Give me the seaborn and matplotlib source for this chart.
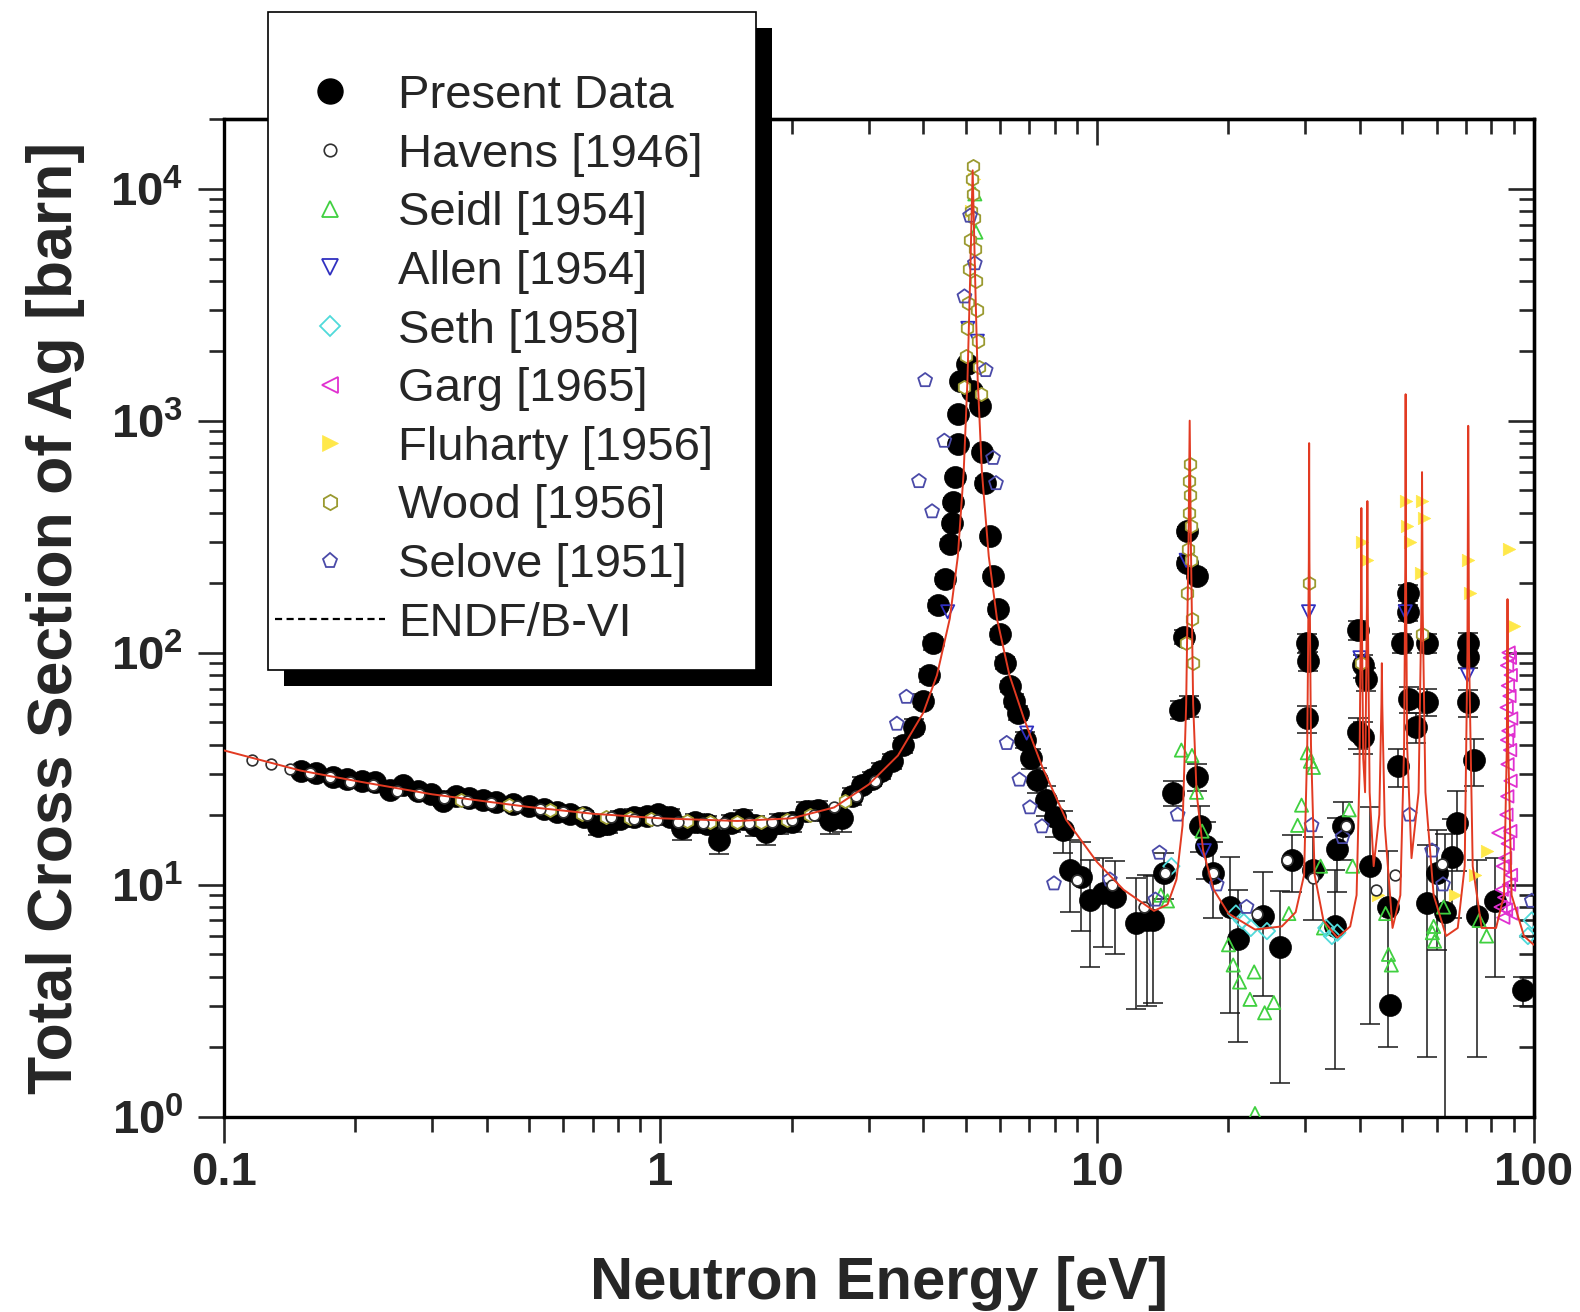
import numpy as np
import matplotlib
matplotlib.use("Agg")
import matplotlib.pyplot as plt
import seaborn as sns
from matplotlib.lines import Line2D
from matplotlib.patches import Rectangle
from matplotlib.ticker import LogLocator, NullFormatter

sns.set_style("ticks")
plt.rcParams['font.family'] = ['Liberation Sans', 'DejaVu Sans']
plt.rcParams['mathtext.fontset'] = 'custom'
plt.rcParams['mathtext.rm'] = 'Liberation Sans:bold'
plt.rcParams['mathtext.it'] = 'Liberation Sans:bold'
plt.rcParams['mathtext.bf'] = 'Liberation Sans:bold'
plt.rcParams['mathtext.default'] = 'rm'

# ---------------- data ----------------
# ENDF/B-VI evaluated curve
endf_E = [0.1, 0.15, 0.2, 0.3, 0.4, 0.5, 0.7, 1.0, 1.5, 2.0, 2.5, 3.0, 3.5, 4.0, 4.3, 4.6,
          4.8, 4.95, 5.05, 5.12, 5.19, 5.26, 5.33, 5.45, 5.65, 5.9, 6.3, 6.8, 7.5, 8.5,
          10.0, 11.5, 13.5, 14.5, 15.2, 15.7, 16.0, 16.2, 16.3, 16.4, 16.6, 16.9, 17.5,
          18.5, 20.0, 23.0, 26.5, 28.5, 29.8, 30.3, 30.55, 30.6, 30.65, 30.9, 31.5, 33.0,
          35.5, 38.0, 39.3, 39.9, 40.2, 40.3, 40.4, 40.7, 41.1, 41.5, 41.6, 41.7, 42.1,
          43.0, 44.3, 44.8, 44.9, 45.0, 45.6, 47.5, 49.5, 50.5, 50.85, 50.9, 50.95, 51.3,
          52.5, 54.5, 55.3, 55.5, 55.7, 56.5, 59.0, 63.0, 67.0, 69.5, 70.5, 70.8, 71.1,
          72.5, 76.0, 82.0, 85.5, 86.8, 87.1, 87.4, 89.0, 95.0, 100.0]
endf_sig = [37.9, 31.0, 28.0, 24.5, 22.8, 21.6, 20.2, 19.3, 18.8, 19.3, 21.5, 27.0, 36.0, 55.0,
            80.0, 140.0, 260.0, 600.0, 1500.0, 4000.0, 12000.0, 4000.0, 1500.0, 600.0, 260.0,
            140.0, 80.0, 52.0, 32.0, 19.0, 12.5, 9.5, 7.7, 8.2, 10.5, 18.0, 60.0, 300.0,
            1000.0, 300.0, 60.0, 25.0, 14.0, 9.5, 7.5, 6.4, 6.6, 7.6, 11.0, 40.0, 250.0,
            800.0, 250.0, 40.0, 11.0, 7.0, 5.9, 6.6, 9.0, 30.0, 150.0, 420.0, 150.0, 35.0,
            25.0, 160.0, 450.0, 150.0, 25.0, 12.0, 20.0, 60.0, 90.0, 60.0, 18.0, 6.5, 9.0,
            40.0, 300.0, 1300.0, 300.0, 40.0, 13.0, 25.0, 150.0, 600.0, 150.0, 25.0, 9.0,
            6.0, 6.5, 12.0, 100.0, 950.0, 100.0, 12.0, 6.5, 6.5, 9.0, 40.0, 170.0, 40.0,
            9.0, 6.0, 5.5]

# Present Data (energy, cross section, error)
pd_E = [0.150, 0.163, 0.178, 0.192, 0.207, 0.222, 0.240, 0.258, 0.278, 0.298, 0.318, 0.340,
        0.365, 0.392, 0.420, 0.460, 0.500, 0.540, 0.580, 0.620, 0.670, 0.720, 0.760, 0.810,
        0.870, 0.930, 0.990, 1.05, 1.12, 1.20, 1.28, 1.36, 1.45, 1.55, 1.65, 1.75, 1.87,
        2.00, 2.15, 2.30, 2.45, 2.60, 2.75, 2.90, 3.05, 3.20, 3.40, 3.60, 3.80, 4.00, 4.12,
        4.22, 4.33, 4.48, 4.60, 4.65, 4.69, 4.73, 4.81, 4.81, 4.85, 5.03, 5.16, 5.40, 5.44,
        5.54, 5.69, 5.79, 5.94, 6.00, 6.15, 6.32, 6.45, 6.60, 6.84, 7.05, 7.27, 7.66, 8.00,
        8.37, 8.67, 9.20, 9.63, 10.3, 11.0, 12.3, 13.0, 13.4, 14.2, 14.9, 15.5, 15.8, 16.1,
        16.1, 16.9, 16.2, 16.9, 17.2, 17.8, 18.4, 20.2, 21.0, 24.0, 26.2, 27.9, 30.2, 30.4,
        30.2, 31.3, 35.0, 35.4, 36.6, 39.6, 40.7, 41.4, 39.6, 40.7, 42.2, 46.9, 46.5, 48.9,
        51.5, 51.5, 50.0, 56.9, 51.9, 56.9, 53.9, 56.9, 60.0, 62.8, 64.9, 66.6, 70.8, 70.8,
        70.8, 73.0, 74.0, 81.7, 94.6]
pd_sig = [30.8, 30.2, 29.0, 28.4, 28.0, 27.8, 25.6, 26.8, 25.2, 24.6, 23.0, 24.2, 23.6, 23.2,
          22.6, 22.2, 21.8, 21.2, 20.6, 20.2, 19.6, 17.8, 18.2, 19.2, 19.6, 19.8, 20.2, 19.6,
          17.6, 18.6, 18.2, 15.6, 18.4, 19.2, 18.0, 16.8, 18.4, 18.6, 20.8, 21.0, 19.0, 19.4,
          24.0, 27.0, 28.5, 31.0, 34.0, 40.0, 48.0, 62.0, 80.0, 110.0, 160.0, 208.0, 294.0,
          362.0, 446.0, 572.0, 790.0, 1071.0, 1480.0, 1757.0, 1346.0, 1156.0, 732.0, 540.0,
          317.0, 213.0, 154.0, 120.0, 90.3, 71.8, 62.0, 55.0, 42.1, 35.0, 28.3, 23.2, 19.5,
          17.2, 11.6, 10.8, 8.6, 9.2, 8.8, 6.8, 7.0, 7.0, 11.2, 24.9, 56.7, 117.0, 333.0,
          244.0, 214.0, 59.0, 29.2, 17.8, 14.6, 11.2, 8.0, 5.8, 7.3, 5.4, 12.8, 110.0, 92.0,
          52.0, 11.5, 6.6, 14.3, 17.8, 125.0, 88.0, 77.0, 45.3, 43.4, 12.0, 3.02, 8.0, 32.3,
          181.0, 149.0, 110.0, 110.0, 62.9, 61.5, 47.9, 8.3, 11.2, 7.6, 13.2, 18.4, 110.0,
          96.0, 61.0, 34.5, 7.3, 8.5, 3.5]
pd_err = [1.0, 1.0, 1.0, 1.0, 1.0, 1.0, 1.0, 1.0, 1.0, 1.0, 1.2, 1.0, 1.0, 1.0, 1.0, 1.0, 1.0,
          1.0, 1.0, 1.2, 1.2, 1.5, 1.5, 1.5, 1.5, 1.5, 1.5, 1.5, 2.0, 1.5, 1.5, 2.0, 1.5, 1.8,
          1.8, 2.0, 1.8, 1.8, 2.0, 2.0, 2.5, 2.5, 2.0, 2.0, 2.0, 2.5, 2.5, 3.0, 3.5, 4.0, 5.0,
          7.0, 9.0, 10.0, 14.0, 16.0, 20.0, 25.0, 30.0, 40.0, 50.0, 60.0, 50.0, 45.0, 30.0,
          25.0, 15.0, 10.0, 8.0, 7.0, 5.0, 4.0, 4.0, 4.0, 3.5, 3.5, 3.5, 3.5, 3.5, 3.5, 4.0,
          4.5, 4.2, 3.8, 3.8, 3.9, 4.0, 3.9, 2.5, 3.0, 5.0, 8.0, 15.0, 12.0, 12.0, 6.0, 4.0,
          4.0, 4.0, 4.0, 5.2, 3.7, 4.0, 4.0, 3.5, 10.0, 9.0, 7.0, 4.5, 5.0, 5.0, 5.0, 12.0,
          10.0, 9.0, 7.0, 7.0, 9.5, 0.0, 6.0, 6.0, 14.0, 12.0, 10.0, 10.0, 8.0, 8.0, 7.0, 6.5,
          6.0, 9.0, 6.0, 7.0, 12.0, 10.0, 8.0, 8.0, 5.5, 4.5, 0.5]

havens_E = [0.116, 0.128, 0.142, 0.158, 0.175, 0.195, 0.22, 0.25, 0.28, 0.32, 0.36, 0.41, 0.47,
            0.53, 0.60, 0.68, 0.77, 0.87, 0.98, 1.1, 1.25, 1.4, 1.6, 1.8, 2.0, 2.25, 2.5, 2.8,
            3.1, 9.0, 10.8, 12.8, 14.3, 18.4, 23.2, 27.2, 31.3, 37.1, 43.5, 48.0, 61.6]
havens_sig = [34.5, 33.0, 31.5, 30.2, 29.0, 27.8, 26.8, 25.4, 24.6, 23.6, 23.0, 22.4, 21.8,
              21.2, 20.6, 20.0, 19.5, 19.2, 19.0, 18.6, 18.4, 18.5, 18.4, 18.6, 19.0, 20.0,
              21.5, 24.0, 28.0, 10.5, 10.0, 8.0, 11.2, 11.2, 7.5, 12.8, 10.7, 17.9, 9.5, 11.0,
              12.3]

seidl_E = [5.25, 5.28, 14.0, 14.5, 15.6, 16.5, 16.9, 17.4, 20.0, 20.5, 21.2, 22.4, 22.9, 23.0,
           24.2, 25.4, 27.5, 28.8, 29.4, 30.3, 30.8, 31.3, 32.5, 33.0, 37.8, 38.5, 45.8, 46.5,
           47.2, 59.0, 59.3, 58.6, 62.2, 75.0, 78.0]
seidl_sig = [9500.0, 6500.0, 9.0, 8.5, 38.0, 36.0, 25.0, 17.0, 5.5, 4.5, 3.8, 3.2, 4.2, 1.03,
             2.8, 3.1, 7.5, 18.0, 22.0, 37.0, 34.0, 32.0, 12.0, 6.5, 21.0, 12.0, 7.5, 5.0, 4.5,
             6.6, 5.7, 6.2, 8.0, 7.0, 6.0]

allen_E = [4.55, 5.06, 5.32, 6.9, 16.0, 17.6, 30.5, 40.0, 50.8, 70.5]
allen_sig = [150.0, 2500.0, 2200.0, 45.0, 250.0, 14.0, 150.0, 95.0, 150.0, 80.0]

seth_E = [14.8, 20.8, 21.5, 22.5, 24.5, 33.5, 34.5, 35.5, 97.0, 99.0]
seth_sig = [12.0, 7.5, 7.0, 6.5, 6.3, 6.5, 6.0, 6.2, 6.0, 7.0]

garg_E = [87.6, 88.2, 86.9, 88.6, 87.3, 88.0, 86.7, 88.8, 87.5, 86.9, 88.3, 87.1, 88.5, 87.0,
          83.0, 86.6, 88.4, 85.0, 87.2, 84.5, 86.0, 88.7, 85.6, 87.8, 84.0, 86.4, 88.9, 85.2]
garg_sig = [100.0, 95.0, 88.0, 80.0, 72.0, 65.0, 58.0, 52.0, 46.0, 42.0, 38.0, 33.0, 28.0,
            24.0, 16.7, 20.0, 17.0, 12.0, 15.0, 9.5, 13.0, 11.0, 8.8, 10.0, 8.0, 7.8, 7.5,
            7.2]

fluharty_E = [5.15, 5.22, 40.5, 41.6, 44.0, 50.9, 51.2, 52.0, 55.2, 55.5, 56.0, 66.0, 70.8,
              71.5, 73.5, 78.0, 88.0, 90.0]
fluharty_sig = [8000.0, 11000.0, 300.0, 250.0, 9.0, 450.0, 350.0, 300.0, 220.0, 450.0, 380.0,
                9.0, 250.0, 180.0, 11.0, 14.0, 280.0, 130.0]

wood_E = [5.19, 5.17, 5.21, 5.14, 5.24, 5.12, 5.26, 5.10, 5.28, 5.07, 5.31, 5.04, 5.34, 5.00,
          5.38, 4.95, 5.42, 16.3, 16.25, 16.35, 16.2, 16.4, 16.15, 16.45, 16.1, 16.5, 16.0,
          16.6, 0.35, 0.45, 0.56, 0.66, 0.75, 0.85, 0.95, 1.15, 1.3, 1.5, 1.7, 1.95, 2.2,
          2.65, 30.6, 40.3, 55.5]
wood_sig = [12500.0, 11000.0, 9500.0, 8000.0, 7500.0, 6000.0, 5500.0, 4500.0, 4000.0, 3200.0,
            3000.0, 2500.0, 2200.0, 1900.0, 1700.0, 1400.0, 1300.0, 650.0, 550.0, 480.0,
            400.0, 350.0, 280.0, 250.0, 180.0, 140.0, 110.0, 90.0, 23.2, 22.0, 21.0, 20.2,
            19.6, 19.4, 19.2, 18.8, 18.6, 18.6, 18.7, 19.0, 20.0, 23.0, 200.0, 90.0, 120.0]

selove_E = [3.48, 3.66, 3.91, 4.04, 4.19, 4.47, 4.97, 5.12, 5.25, 5.56, 5.78, 5.87, 6.21, 6.64,
            7.02, 7.48, 7.97, 10.7, 13.6, 13.9, 15.3, 18.8, 22.0, 31.0, 36.5, 52.0, 58.5, 62.0,
            99.0]
selove_sig = [49.3, 64.4, 548.0, 1493.0, 406.0, 818.0, 3428.0, 7640.0, 4765.0, 1650.0, 690.0,
              537.0, 40.7, 28.3, 21.5, 17.8, 10.1, 10.5, 8.6, 13.7, 20.0, 10.0, 8.0, 18.0,
              16.0, 20.0, 14.0, 10.0, 8.5]

legend_labels = ["Present Data", "Havens [1946]", "Seidl [1954]", "Allen [1954]",
                 "Seth [1958]", "Garg [1965]", "Fluharty [1956]", "Wood [1956]",
                 "Selove [1951]", "ENDF/B-VI"]
x_ticks = [0.1, 1, 10, 100]
x_ticklabels = ["0.1", "1", "10", "100"]
y_ticks = [1, 10, 100, 1000, 10000]
y_ticklabels = [r"$10^{0}$", r"$10^{1}$", r"$10^{2}$", r"$10^{3}$", r"$10^{4}$"]

# ---------------- styles ----------------
C_SEIDL = "#40d040"
C_ALLEN = "#3030c0"
C_SETH = "#50dada"
C_GARG = "#e030d0"
C_FLUH = "#ffe84a"
C_WOOD = "#9a9a30"
C_SELOVE = "#4a4aa8"
C_HAVENS = "#303030"
C_ENDF = "#e23a22"

W, H = 1580, 1312
fig = plt.figure(figsize=(W / 100, H / 100), dpi=100)
ax = fig.add_axes([223.7 / W, 1 - 1116.5 / H, (1533.7 - 223.7) / W, (1116.5 - 118.9) / H])
ax.set_xscale("log")
ax.set_yscale("log")
ax.set_xlim(0.1, 100)
ax.set_ylim(1, 2.0e4)

ax.errorbar(pd_E, pd_sig, yerr=pd_err, fmt="none", ecolor="#1a1a1a", elinewidth=1.1,
            capsize=7, capthick=1.1, zorder=2)
sns.scatterplot(x=pd_E, y=pd_sig, ax=ax, marker="o", s=250, color="black",
                edgecolor="black", linewidth=0.5, zorder=3, legend=False)


def open_series(E, S, marker, color, s, lw=1.3, face="none", z=4):
    sns.scatterplot(x=E, y=S, ax=ax, marker=marker, s=s, color=color, facecolors=face,
                    edgecolor=color, linewidth=lw, zorder=z, legend=False)


open_series(seidl_E, seidl_sig, "^", C_SEIDL, 90)
open_series(allen_E, allen_sig, "v", C_ALLEN, 90)
open_series(seth_E, seth_sig, "D", C_SETH, 70)
open_series(garg_E, garg_sig, "<", C_GARG, 80)
open_series(fluharty_E, fluharty_sig, ">", C_FLUH, 80, lw=0.5, face=C_FLUH)
open_series(wood_E, wood_sig, "h", C_WOOD, 90, face="white")
open_series(selove_E, selove_sig, "p", C_SELOVE, 110)
open_series(havens_E, havens_sig, "o", C_HAVENS, 60, lw=1.2, face="white", z=4.5)

sns.lineplot(x=endf_E, y=endf_sig, ax=ax, color=C_ENDF, linewidth=1.4, sort=False,
             estimator=None, errorbar=None, zorder=6)

# ---------------- axes styling ----------------
for sp in ax.spines.values():
    sp.set_linewidth(2.4)
    sp.set_color("black")

ax.set_xticks(x_ticks)
ax.set_xticklabels(x_ticklabels, fontsize=34, fontweight="bold")
ax.set_yticks(y_ticks)
ax.set_yticklabels(y_ticklabels, fontsize=34)
ax.xaxis.set_minor_locator(LogLocator(base=10, subs=np.arange(2, 10)))
ax.yaxis.set_minor_locator(LogLocator(base=10, subs=np.arange(2, 10)))
ax.xaxis.set_minor_formatter(NullFormatter())
ax.yaxis.set_minor_formatter(NullFormatter())
ax.tick_params(which="major", direction="out", length=19, width=1.9, top=False, right=False)
ax.tick_params(which="minor", direction="out", length=10.5, width=1.9, top=False, right=False)
ax.tick_params(axis="x", which="major", pad=6)
ax.tick_params(axis="y", which="major", pad=10)

secx = ax.secondary_xaxis("top")
secx.xaxis.set_major_locator(LogLocator(base=10))
secx.xaxis.set_minor_locator(LogLocator(base=10, subs=np.arange(2, 10)))
secx.xaxis.set_major_formatter(NullFormatter())
secx.xaxis.set_minor_formatter(NullFormatter())
secx.tick_params(which="major", direction="in", length=19, width=1.9)
secx.tick_params(which="minor", direction="in", length=11, width=1.9)
secx.spines["top"].set_linewidth(2.4)

secy = ax.secondary_yaxis("right")
secy.yaxis.set_major_locator(LogLocator(base=10))
secy.yaxis.set_minor_locator(LogLocator(base=10, subs=np.arange(2, 10)))
secy.yaxis.set_major_formatter(NullFormatter())
secy.yaxis.set_minor_formatter(NullFormatter())
secy.tick_params(which="major", direction="in", length=19, width=1.9)
secy.tick_params(which="minor", direction="in", length=11, width=1.9)
secy.spines["right"].set_linewidth(2.4)

ax.set_xlabel("Neutron Energy [eV]", fontsize=43, fontweight="bold", labelpad=44)
ax.set_ylabel("Total Cross Section of Ag [barn]", fontsize=45, fontweight="bold", labelpad=18)

# ---------------- legend with hard shadow ----------------
handles = [
    Line2D([], [], ls="", marker="o", ms=18, mfc="black", mec="black"),
    Line2D([], [], ls="", marker="o", ms=9, mfc="none", mec=C_HAVENS, mew=1.2),
    Line2D([], [], ls="", marker="^", ms=11, mfc="none", mec=C_SEIDL, mew=1.3),
    Line2D([], [], ls="", marker="v", ms=11, mfc="none", mec=C_ALLEN, mew=1.3),
    Line2D([], [], ls="", marker="D", ms=10, mfc="none", mec=C_SETH, mew=1.3),
    Line2D([], [], ls="", marker="<", ms=11, mfc="none", mec=C_GARG, mew=1.3),
    Line2D([], [], ls="", marker=">", ms=11, mfc=C_FLUH, mec=C_FLUH, mew=0.5),
    Line2D([], [], ls="", marker="h", ms=11, mfc="none", mec=C_WOOD, mew=1.3),
    Line2D([], [], ls="", marker="p", ms=11, mfc="none", mec=C_SELOVE, mew=1.3),
    Line2D([], [], color="black", ls=(0, (3.2, 2.0)), lw=1.6),
]
fig.add_artist(Rectangle((284 / W, 1 - 686 / H), 488 / W, 658 / H, transform=fig.transFigure,
                         facecolor="black", edgecolor="none", zorder=8))
fig.add_artist(Rectangle((268 / W, 1 - 670 / H), 488 / W, 658 / H, transform=fig.transFigure,
                         facecolor="white", edgecolor="black", linewidth=1.2, zorder=9))
leg = fig.legend(handles, legend_labels, loc="upper left",
                 bbox_to_anchor=(275 / W, 1 - 74 / H), bbox_transform=fig.transFigure,
                 frameon=False, borderpad=0, borderaxespad=0, handlelength=2.33,
                 handletextpad=0.28, labelspacing=0.31, fontsize=34)
leg.set_zorder(10)

fig.savefig("out.png", dpi=100)
